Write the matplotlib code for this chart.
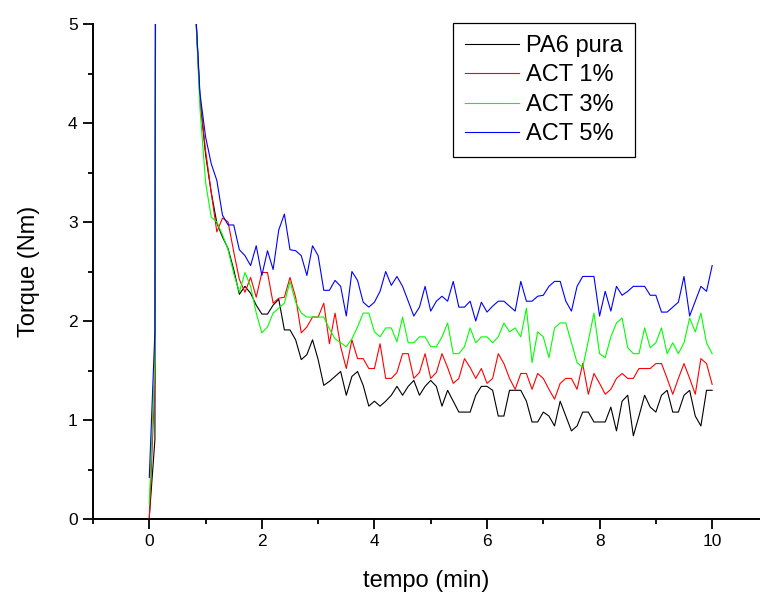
import numpy as np
import matplotlib
matplotlib.use("Agg")
from matplotlib import pyplot as plt
from matplotlib.ticker import MultipleLocator

plt.rcParams['font.family'] = ['Liberation Sans', 'DejaVu Sans']

# sampling time (min), one reading every 0.1 min
tempo = np.round(np.arange(101) * 0.1, 1)

pa6_pura = [0.02, 0.8, 40, 30, 20, 14, 10, 7.5, 5.4, 4.25,
            3.68, 3.3, 2.99, 2.85, 2.73, 2.52, 2.27, 2.35, 2.28, 2.16,
            2.07, 2.07, 2.16, 2.22, 1.91, 1.91, 1.81, 1.61, 1.66, 1.81,
            1.61, 1.35, 1.39, 1.44, 1.49, 1.25, 1.44, 1.49, 1.35, 1.14,
            1.19, 1.14, 1.19, 1.25, 1.34, 1.25, 1.34, 1.40, 1.25, 1.34,
            1.40, 1.34, 1.14, 1.30, 1.19, 1.08, 1.08, 1.08, 1.25, 1.34,
            1.34, 1.30, 1.04, 1.04, 1.30, 1.30, 1.30, 1.19, 0.98, 0.98,
            1.08, 1.04, 0.94, 1.19, 1.04, 0.89, 0.94, 1.08, 1.08, 0.98,
            0.98, 0.98, 1.13, 0.89, 1.19, 1.25, 0.84, 1.04, 1.25, 1.13,
            1.08, 1.25, 1.30, 1.08, 1.08, 1.25, 1.30, 1.04, 0.94, 1.30,
            1.30]

act1 = [0.0, 1.4, 40, 30, 20, 14, 10, 7.5, 5.4, 4.25,
        3.72, 3.3, 2.90, 3.04, 3.00, 2.70, 2.42, 2.29, 2.44, 2.24,
        2.49, 2.49, 2.18, 2.23, 2.24, 2.44, 2.24, 1.88, 1.94, 2.04,
        2.04, 2.18, 1.77, 2.08, 1.74, 1.52, 1.81, 1.62, 1.62, 1.52,
        1.52, 1.77, 1.42, 1.42, 1.48, 1.67, 1.67, 1.42, 1.48, 1.67,
        1.42, 1.48, 1.67, 1.53, 1.37, 1.42, 1.62, 1.53, 1.42, 1.52,
        1.37, 1.42, 1.67, 1.57, 1.42, 1.31, 1.47, 1.47, 1.31, 1.47,
        1.42, 1.31, 1.21, 1.37, 1.42, 1.42, 1.31, 1.57, 1.26, 1.47,
        1.37, 1.26, 1.31, 1.42, 1.47, 1.42, 1.42, 1.52, 1.52, 1.52,
        1.57, 1.57, 1.42, 1.26, 1.42, 1.57, 1.42, 1.26, 1.62, 1.57,
        1.36]

act3 = [0.15, 1.6, 40, 30, 20, 14, 10, 7.5, 5.4, 4.15,
        3.40, 3.05, 3.00, 2.87, 2.72, 2.48, 2.29, 2.49, 2.35, 2.08,
        1.88, 1.94, 2.08, 2.13, 2.18, 2.40, 2.19, 2.08, 2.04, 2.04,
        2.04, 2.04, 1.92, 1.82, 1.78, 1.74, 1.82, 1.94, 2.08, 2.08,
        1.89, 1.84, 1.93, 1.93, 1.79, 2.04, 1.78, 1.78, 1.84, 1.84,
        1.74, 1.74, 1.84, 1.98, 1.67, 1.67, 1.74, 1.93, 1.78, 1.84,
        1.84, 1.78, 1.84, 1.98, 1.89, 1.93, 1.84, 2.13, 1.58, 1.89,
        1.84, 1.63, 1.93, 1.98, 1.98, 1.78, 1.58, 1.53, 1.80, 2.08,
        1.67, 1.63, 1.84, 1.98, 2.03, 1.73, 1.67, 1.67, 1.93, 1.73,
        1.78, 1.93, 1.67, 1.78, 1.67, 1.78, 2.03, 1.89, 2.08, 1.78,
        1.67]

act5 = [0.42, 1.9, 40, 30, 20, 14, 10, 7.5, 5.4, 4.3,
        3.86, 3.59, 3.42, 3.07, 2.97, 2.97, 2.72, 2.66, 2.56, 2.76,
        2.46, 2.71, 2.52, 2.92, 3.08, 2.72, 2.71, 2.66, 2.46, 2.76,
        2.66, 2.31, 2.31, 2.41, 2.35, 2.05, 2.50, 2.41, 2.19, 2.14,
        2.19, 2.30, 2.50, 2.36, 2.45, 2.35, 2.20, 2.05, 2.14, 2.35,
        2.10, 2.20, 2.25, 2.20, 2.40, 2.14, 2.14, 2.20, 2.00, 2.19,
        2.09, 2.15, 2.20, 2.20, 2.15, 2.10, 2.40, 2.20, 2.20, 2.25,
        2.26, 2.35, 2.40, 2.40, 2.20, 2.10, 2.35, 2.45, 2.45, 2.45,
        2.05, 2.30, 2.10, 2.35, 2.26, 2.30, 2.35, 2.35, 2.35, 2.26,
        2.26, 2.09, 2.09, 2.14, 2.19, 2.45, 2.05, 2.20, 2.35, 2.30,
        2.56]

labels = ['PA6 pura', 'ACT 1%', 'ACT 3%', 'ACT 5%']
colors = ['#000000', '#ff0000', '#00ff00', '#0000ff']

fig = plt.figure(figsize=(7.6, 5.97), dpi=100)
ax = fig.add_axes([93/760, 78/597, 667/760, 495/597])

for serie, lab, cor in zip([pa6_pura, act1, act3, act5], labels, colors):
    ax.plot(tempo, serie, color=cor, lw=0.8, label=lab)

ax.set_xlim(-1, 10.85)
ax.set_ylim(0, 5)
ax.xaxis.set_major_locator(MultipleLocator(2))
ax.xaxis.set_minor_locator(MultipleLocator(1))
ax.yaxis.set_major_locator(MultipleLocator(1))
ax.yaxis.set_minor_locator(MultipleLocator(0.5))

ax.spines['top'].set_visible(False)
ax.spines['right'].set_visible(False)
ax.spines['left'].set_linewidth(1.4)
ax.spines['bottom'].set_linewidth(1.4)
ax.tick_params(which='major', direction='out', length=7, width=1.3, labelsize=12.5, pad=4)
ax.tick_params(which='minor', direction='out', length=3.5, width=1.3)

ax.set_xlabel('tempo (min)', fontsize=17, labelpad=15)
ax.set_ylabel('Torque (Nm)', fontsize=17, labelpad=20)

leg = ax.legend(loc='upper left', bbox_to_anchor=(453/760, 1 - 23/597),
                bbox_transform=fig.transFigure, fontsize=17, frameon=True,
                fancybox=False, framealpha=1, edgecolor='black',
                handlelength=2.3, handletextpad=0.3, labelspacing=0.32,
                borderpad=0.5, borderaxespad=0)
leg.get_frame().set_linewidth(0.9)

fig.savefig('out.png', dpi=100)
